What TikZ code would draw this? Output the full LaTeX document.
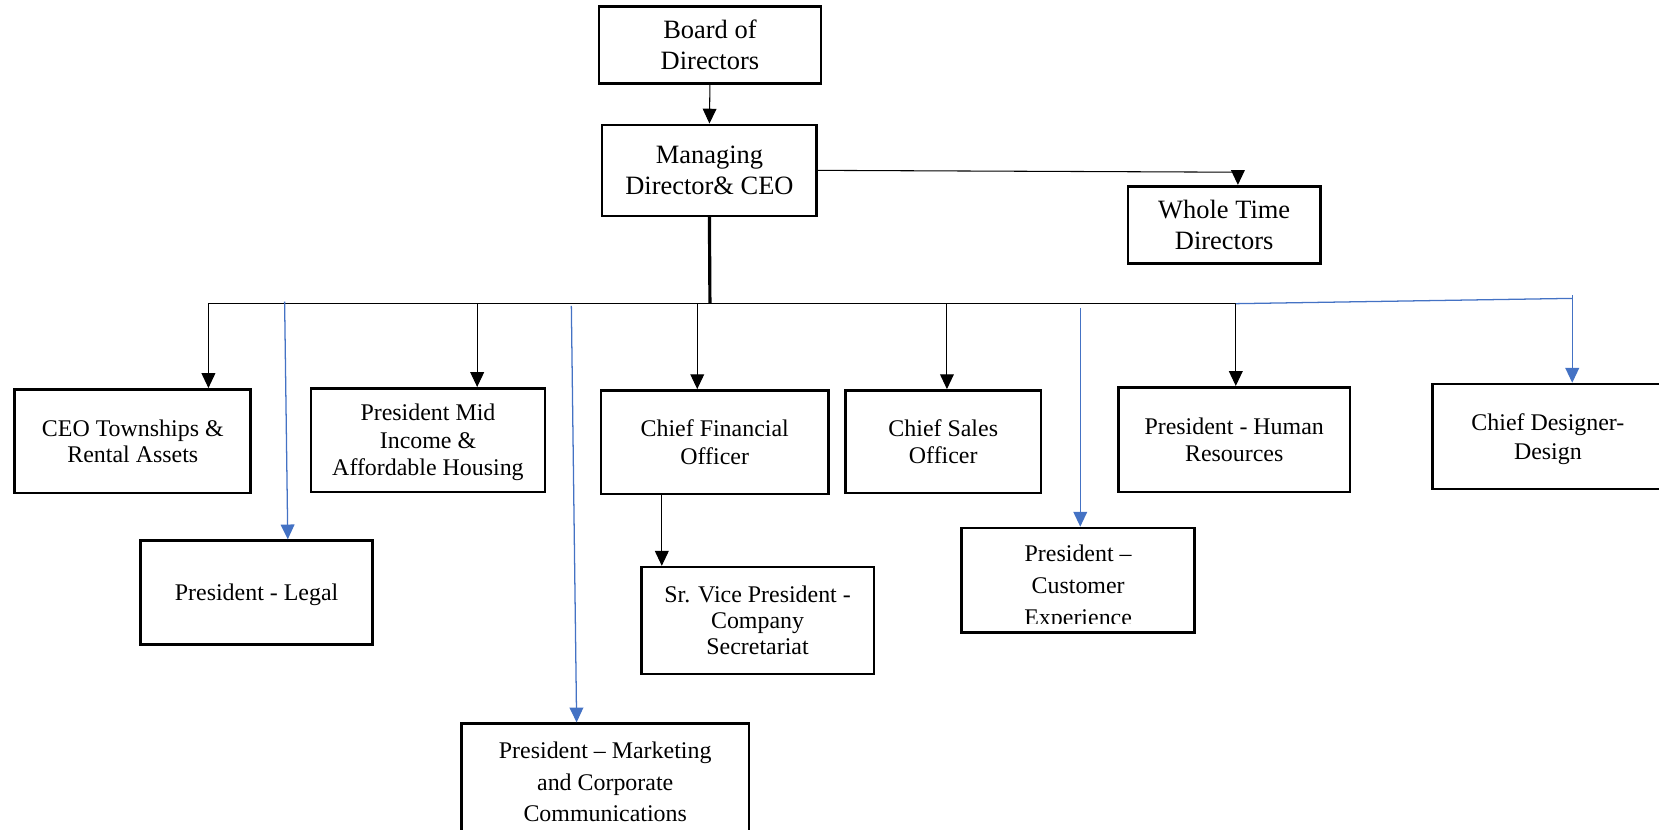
\documentclass[tikz,border=0pt]{standalone}
\usepackage{fontspec}
\setmainfont{Liberation Serif}
\usetikzlibrary{arrows.meta,calc}
\definecolor{connblue}{HTML}{4472C4}
\begin{document}
\begin{tikzpicture}[x=0.5pt,y=-0.5pt,
  box/.style={draw,line width=1.25pt,inner sep=0pt,align=center,text depth=-2pt,
    font=\fontsize{11.3}{13}\selectfont},
  topbox/.style={box,font=\fontsize{12.5}{14.5}\selectfont},
  conn/.style={line width=0.5pt},
  arr/.style={conn,-{Triangle[width=6.5pt,length=7pt]}},
  bconn/.style={line width=0.6pt,connblue},
  barr/.style={bconn,-{Triangle[width=6.5pt,length=7pt]}},
  trunk/.style={line width=1.5pt}]
\useasboundingbox (0,0) rectangle (1568,784);
% boxes
\node[topbox,minimum width=105pt,minimum height=36.5pt] (board) at (671,42.5) {Board of\\Directors};
\node[topbox,minimum width=101.5pt,minimum height=43pt] (mgr) at (670.5,161) {Managing\\Director\& CEO};
\node[topbox,minimum width=91pt,minimum height=36.5pt] (whole) at (1157,212.5) {Whole Time\\Directors};
\node[box,font=\fontsize{11.3}{12.5}\selectfont,minimum width=111.5pt,minimum height=49pt] (ceo) at (125.5,417) {CEO Townships \&\\Rental Assets};
\node[box,minimum width=110.5pt,minimum height=49pt] (mid) at (404.5,416) {President Mid\\Income \&\\Affordable Housing};
\node[box,minimum width=107.5pt,minimum height=49pt] (cfo) at (675.5,418) {Chief Financial\\Officer};
\node[box,minimum width=92.5pt,minimum height=48.5pt] (sales) at (891.5,417.5) {Chief Sales\\Officer};
\node[box,minimum width=109.5pt,minimum height=49.5pt] (hr) at (1166.5,415.5) {President - Human\\Resources};
\node[box,font=\fontsize{11.3}{13.5}\selectfont,minimum width=109pt,minimum height=49.5pt] (design) at (1463,412.5) {Chief Designer-\\Design};
\node[box,minimum width=109.5pt,minimum height=49pt] (legal) at (242.5,560) {President - Legal};
\node[box,font=\fontsize{11.3}{12.25}\selectfont,minimum width=110pt,minimum height=50.5pt] (srvp) at (716,586.5) {Sr. Vice President -\\Company\\Secretariat};
\node[box,minimum width=110pt,minimum height=49.5pt] (cus) at (1019,548.5) {};
\begin{scope}
  \clip (909,499) rectangle (1129,589);
  \node[align=center,inner sep=0pt,font=\fontsize{11.3}{15}\selectfont] (custext) at ([yshift=-3.5pt]cus.center) {President –\\Customer\\Experience};
\end{scope}
\node[box,text depth=0pt,font=\fontsize{11.3}{14.75}\selectfont,minimum width=136pt,minimum height=55pt] (mkt) at (572,739) {President – Marketing\\and Corporate\\Communications};
% coordinates
\coordinate (bus) at (671,287);
\coordinate (busL) at (197,287);
\coordinate (busR) at (1168,287);
\coordinate (d1) at (197,287);
\coordinate (d2) at (451,287);
\coordinate (d3) at (659,287);
\coordinate (d4) at (895,287);
\coordinate (d5) at (1168,287);
\coordinate (b1) at (269,285);
\coordinate (b2) at (540,289);
\coordinate (b3) at (1021,291);
\coordinate (b4top) at (1486,279);
\coordinate (b4) at (1486,282);
% black connectors
\draw[arr] (board.south) -- (mgr.north);
\draw[arr] (mgr.east) -- ([xshift=6.5pt,yshift=6pt]whole.north) -- ([xshift=6.5pt]whole.north);
\draw[trunk] (mgr.south) -- (bus);
\draw[conn] (busL) -- (busR);
\draw[arr] (d1) -- (d1 |- ceo.north);
\draw[arr] (d2) -- (d2 |- mid.north);
\draw[arr] (d3) -- (d3 |- cfo.north);
\draw[arr] (d4) -- (d4 |- sales.north);
\draw[arr] (d5) -- (d5 |- hr.north);
\draw[arr] ([xshift=-25pt]cfo.south) -- ([xshift=-25pt]cfo.south |- srvp.north);
% blue connectors
\draw[barr] (b1) -- ($(legal.north)+(29.5,0)$);
\draw[barr] (b2) -- ($(mkt.north)+(-27,0)$);
\draw[barr] (b3) -- ($(cus.north)+(2,0)$);
\draw[bconn] (busR) -- (b4);
\draw[barr] (b4top) -- ($(design.north)+(23,0)$);
\end{tikzpicture}
\end{document}
